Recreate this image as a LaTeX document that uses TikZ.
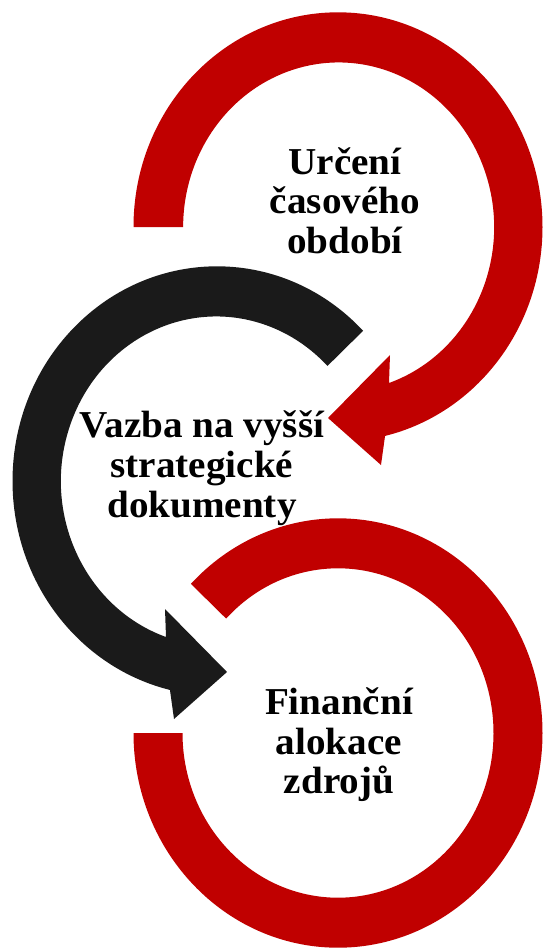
\documentclass[tikz,border=0pt]{standalone}
\usepackage{fontspec}
\setmainfont{Liberation Serif}[FakeStretch=1.03]
\usetikzlibrary{calc}
\definecolor{arrred}{HTML}{C00000}
\definecolor{arrblack}{HTML}{1A1A1A}
\begin{document}
\begin{tikzpicture}[x=1pt,y=1pt,
  lbl/.style={font=\fontsize{38}{40}\selectfont\bfseries, inner sep=0pt, anchor=base, text=black},
  redarrow/.style={fill=arrred},
  blackarrow/.style={fill=arrblack}]
\useasboundingbox (0,0) rectangle (543,-948);
\coordinate (C1) at (338,-227);
\coordinate (C2) at (217,-481);
\coordinate (C3) at (338,-733);
% top red circular arrow
\fill[redarrow] ($(C1)+(-204.5,0)$)
  arc[start angle=180,end angle=-76.7,x radius=204.5pt,y radius=214.7pt]
  -- ($(C1)+(43,-238)$) -- ($(C1)+(-10,-191)$) -- ($(C1)+(52,-128)$) -- ($(C1)+(51,-156)$)
  arc[start angle=-71.1,end angle=180,x radius=155.5pt,y radius=164.7pt] -- cycle;
% middle black circular arrow
\fill[blackarrow] ($(C2)+(44.4:204.5pt and 214.7pt)$)
  arc[start angle=44.4,end angle=256.7,x radius=204.5pt,y radius=214.7pt]
  -- ($(C2)+(-43,-238)$) -- ($(C2)+(10,-191)$) -- ($(C2)+(-52,-128)$) -- ($(C2)+(-51,-156)$)
  arc[start angle=251.1,end angle=44.4,x radius=155.5pt,y radius=164.7pt] -- cycle;
% bottom red arc
\fill[redarrow] ($(C3)+(-204.5,0)$)
  arc[start angle=180,end angle=496,x radius=204.5pt,y radius=214.7pt]
  -- ($(C3)+(496:155.5pt and 164.7pt)$)
  arc[start angle=496,end angle=180,x radius=155.5pt,y radius=164.7pt] -- cycle;
% labels
\node[lbl] (t1a) at (345,-174) {Určení};
\node[lbl] (t1b) at (345,-213.5) {časového};
\node[lbl] (t1c) at (345,-253) {období};
\node[lbl] (t2a) at (202,-437) {Vazba na vyšší};
\node[lbl] (t2b) at (202,-477) {strategické};
\node[lbl] (t2c) at (202,-517) {dokumenty};
\node[lbl] (t3a) at (339,-714) {Finanční};
\node[lbl] (t3b) at (339,-754) {alokace};
\node[lbl] (t3c) at (339,-793) {zdrojů};
\end{tikzpicture}
\end{document}
